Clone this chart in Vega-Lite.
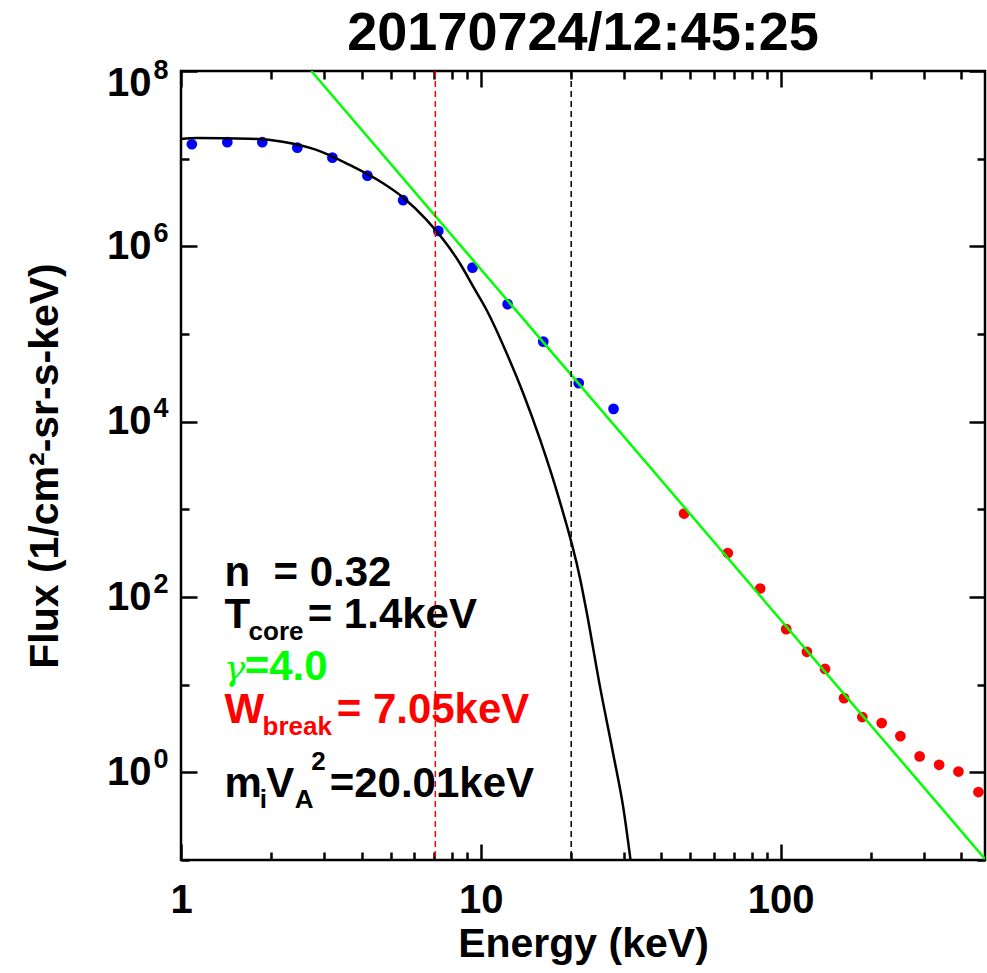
{
  "$schema": "https://vega.github.io/schema/vega-lite/v6.json",
  "width": 804,
  "height": 789,
  "autosize": "none",
  "padding": {"left": 181, "top": 71, "right": 2, "bottom": 113},
  "background": "white",
  "config": {
    "view": {"stroke": "black", "strokeWidth": 2.5},
    "font": "Liberation Sans",
    "axis": {"grid": false, "domain": false, "tickColor": "black", "tickWidth": 2.5, "labelColor": "black", "titleColor": "black", "labelFont": "Liberation Sans", "titleFont": "Liberation Sans", "labelFontWeight": "bold", "titleFontWeight": "bold", "labelFontSize": 40, "titleFontSize": 41, "labelOverlap": false, "labelFlush": false, "labelBound": false}
  },
  "title": {"text": "20170724/12:45:25", "font": "Liberation Sans", "fontSize": 54, "fontWeight": "bold", "anchor": "middle", "frame": "group", "offset": -5, "color": "black"},
  "datasets": {
    "blue": [
      {"E": 1.087, "F": 14600000}, {"E": 1.427, "F": 15400000}, {"E": 1.867, "F": 15400000},
      {"E": 2.443, "F": 13350000}, {"E": 3.198, "F": 10270000}, {"E": 4.185, "F": 6400000},
      {"E": 5.504, "F": 3360000}, {"E": 7.214, "F": 1500000}, {"E": 9.38, "F": 572000},
      {"E": 12.28, "F": 219000}, {"E": 16.15, "F": 81900}, {"E": 21.2, "F": 27500},
      {"E": 27.7, "F": 14000}
    ],
    "red": [
      {"E": 47.6, "F": 895}, {"E": 66.6, "F": 317}, {"E": 85.4, "F": 125}, {"E": 104.3, "F": 43.0},
      {"E": 122.3, "F": 23.7}, {"E": 140.5, "F": 15.1}, {"E": 162.6, "F": 7.03}, {"E": 187.1, "F": 4.27},
      {"E": 217.1, "F": 3.65}, {"E": 250.6, "F": 2.59}, {"E": 290.6, "F": 1.52}, {"E": 337.5, "F": 1.22},
      {"E": 391.5, "F": 1.02}, {"E": 456.4, "F": 0.596}
    ],
    "curve": [
      {"E": 1.0, "F": 16800000}, {"E": 1.135, "F": 17200000}, {"E": 1.693, "F": 16900000},
      {"E": 2.183, "F": 15600000}, {"E": 2.828, "F": 12600000}, {"E": 3.652, "F": 8480000},
      {"E": 4.72, "F": 5240000}, {"E": 5.504, "F": 3610000}, {"E": 6.59, "F": 2000000},
      {"E": 8.51, "F": 641000}, {"E": 9.43, "F": 347000},
      {"E": 10.45, "F": 188000}, {"E": 12.19, "F": 60400}, {"E": 13.84, "F": 21100},
      {"E": 15.74, "F": 6310}, {"E": 18.2, "F": 1340}, {"E": 21.41, "F": 164}, {"E": 22.54, "F": 67},
      {"E": 24.96, "F": 9.5}, {"E": 27.65, "F": 1.6}, {"E": 29.87, "F": 0.39},
      {"E": 31.56, "F": 0.1}
    ],
    "green": [{"E": 2.72, "F": 100000000}, {"E": 480, "F": 0.103}]
  },
  "layer": [
    {
      "data": {"name": "blue"},
      "mark": {"type": "circle", "color": "#0000ff", "opacity": 1, "size": 115},
      "encoding": {
        "x": {"field": "E", "type": "quantitative", "scale": {"type": "log", "domain": [1, 480]},
          "title": "Energy (keV)",
          "axis": {"orient": "bottom", "values": [1,2,3,4,5,6,7,8,9,10,20,30,40,50,60,70,80,90,100,200,300,400],
            "labelExpr": "datum.value == 1 ? '1' : datum.value == 10 ? '10' : datum.value == 100 ? '100' : ''",
            "tickSize": {"condition": {"test": "datum.value == 1 || datum.value == 10 || datum.value == 100", "value": -16}, "value": -8},
            "labelPadding": 36, "titlePadding": -4}},
        "y": {"field": "F", "type": "quantitative", "scale": {"type": "log", "domain": [0.1, 100000000]},
          "title": "Flux (1/cm²-sr-s-keV)",
          "axis": {"orient": "left", "values": [0.1,1,10,100,1000,10000,100000,1000000,10000000,100000000],
            "labelExpr": "datum.value == 1 || datum.value == 100 || datum.value == 10000 || datum.value == 1000000 || datum.value == 100000000 ? '10' : ''",
            "labelOffset": {"condition": {"test": "datum.value == 100000000", "value": 12}, "value": 0},
            "tickSize": {"condition": {"test": "datum.value == 1 || datum.value == 100 || datum.value == 10000 || datum.value == 1000000 || datum.value == 100000000", "value": -16}, "value": -8},
            "labelPadding": 46, "titlePadding": 40}}
      }
    },
    {
      "data": {"name": "red"},
      "mark": {"type": "circle", "color": "#ff0000", "opacity": 1, "size": 115},
      "encoding": {
        "x": {"field": "E", "type": "quantitative", "scale": {"type": "log", "domain": [1, 480]},
          "axis": {"orient": "top", "labels": false, "title": null, "values": [1,2,3,4,5,6,7,8,9,10,20,30,40,50,60,70,80,90,100,200,300,400],
            "tickSize": {"condition": {"test": "datum.value == 1 || datum.value == 10 || datum.value == 100", "value": -16}, "value": -8}}},
        "y": {"field": "F", "type": "quantitative", "scale": {"type": "log", "domain": [0.1, 100000000]},
          "axis": {"orient": "right", "labels": false, "title": null, "values": [0.1,1,10,100,1000,10000,100000,1000000,10000000,100000000],
            "tickSize": {"condition": {"test": "datum.value == 1 || datum.value == 100 || datum.value == 10000 || datum.value == 1000000 || datum.value == 100000000", "value": -16}, "value": -8}}}
      }
    },
    {
      "data": {"name": "curve"},
      "mark": {"type": "line", "color": "black", "strokeWidth": 2.5, "interpolate": "monotone", "clip": true},
      "encoding": {
        "x": {"field": "E", "type": "quantitative", "scale": {"type": "log", "domain": [1, 480]}, "axis": null},
        "y": {"field": "F", "type": "quantitative", "scale": {"type": "log", "domain": [0.1, 100000000]},
          "axis": {"orient": "left", "title": null, "ticks": false, "values": [1,100,10000,1000000,100000000],
            "labelExpr": "datum.value == 1 ? '0' : datum.value == 100 ? '2' : datum.value == 10000 ? '4' : datum.value == 1000000 ? '6' : '8'",
            "labelFontSize": 27, "labelAlign": "left", "labelBaseline": "alphabetic", "labelPadding": 28,
            "labelOffset": {"condition": {"test": "datum.value == 100000000", "value": 7}, "value": -5}}}
      }
    },
    {
      "data": {"name": "green"},
      "mark": {"type": "line", "color": "#00ff00", "strokeWidth": 2.5, "clip": true},
      "encoding": {
        "x": {"field": "E", "type": "quantitative", "scale": {"type": "log", "domain": [1, 480]}, "axis": null},
        "y": {"field": "F", "type": "quantitative", "scale": {"type": "log", "domain": [0.1, 100000000]}, "axis": null}
      }
    },
    {
      "data": {"values": [{"E": 7.05}]},
      "mark": {"type": "rule", "color": "#ff0000", "strokeWidth": 1.5, "strokeDash": [6, 4]},
      "encoding": {"x": {"field": "E", "type": "quantitative", "scale": {"type": "log", "domain": [1, 480]}, "axis": null}}
    },
    {
      "data": {"values": [{"E": 20.01}]},
      "mark": {"type": "rule", "color": "black", "strokeWidth": 1.5, "strokeDash": [6, 4]},
      "encoding": {"x": {"field": "E", "type": "quantitative", "scale": {"type": "log", "domain": [1, 480]}, "axis": null}}
    },
    {
      "data": {"values": [
        {"t": "n\u00a0\u00a0=\u00a00.32", "E": 1.397, "F": 131.8, "c": "black", "s": "big"},
        {"t": "T", "E": 1.397, "F": 44.6, "c": "black", "s": "big"},
        {"t": "= 1.4keV", "E": 2.645, "F": 44.6, "c": "black", "s": "big"},
        {"t": "=4.0", "E": 1.63, "F": 11.4, "c": "green", "s": "big"},
        {"t": "W", "E": 1.397, "F": 3.68, "c": "red", "s": "big"},
        {"t": "= 7.05keV", "E": 3.305, "F": 3.68, "c": "red", "s": "big"},
        {"t": "m", "E": 1.397, "F": 0.527, "c": "black", "s": "big"},
        {"t": "V", "E": 1.925, "F": 0.527, "c": "black", "s": "big"},
        {"t": "=20.01keV", "E": 3.132, "F": 0.527, "c": "black", "s": "big"},
        {"t": "core", "E": 1.68, "F": 32.5, "c": "black", "s": "small"},
        {"t": "break", "E": 1.871, "F": 2.68, "c": "red", "s": "small"},
        {"t": "i", "E": 1.829, "F": 0.395, "c": "black", "s": "small"},
        {"t": "A", "E": 2.393, "F": 0.395, "c": "black", "s": "small"},
        {"t": "2", "E": 2.721, "F": 1.05, "c": "black", "s": "small"}
      ]},
      "mark": {"type": "text", "align": "left", "baseline": "alphabetic", "font": "Liberation Sans", "fontWeight": "bold"},
      "encoding": {
        "x": {"field": "E", "type": "quantitative", "scale": {"type": "log", "domain": [1, 480]}, "axis": null},
        "y": {"field": "F", "type": "quantitative", "scale": {"type": "log", "domain": [0.1, 100000000]}, "axis": null},
        "text": {"field": "t"},
        "color": {"field": "c", "type": "nominal", "scale": {"domain": ["black", "green", "red"], "range": ["#000000", "#00ff00", "#ff0000"]}, "legend": null},
        "size": {"field": "s", "type": "nominal", "scale": {"domain": ["big", "small"], "range": [42, 26]}, "legend": null}
      }
    },
    {
      "data": {"values": [{"t": "γ", "E": 1.388, "F": 11.4}]},
      "mark": {"type": "text", "align": "left", "baseline": "alphabetic", "font": "DejaVu Serif", "fontStyle": "italic", "fontSize": 36, "color": "#00ff00"},
      "encoding": {
        "x": {"field": "E", "type": "quantitative", "scale": {"type": "log", "domain": [1, 480]}, "axis": null},
        "y": {"field": "F", "type": "quantitative", "scale": {"type": "log", "domain": [0.1, 100000000]}, "axis": null},
        "text": {"field": "t"}
      }
    }
  ],
  "resolve": {"axis": {"x": "independent", "y": "independent"}}
}
